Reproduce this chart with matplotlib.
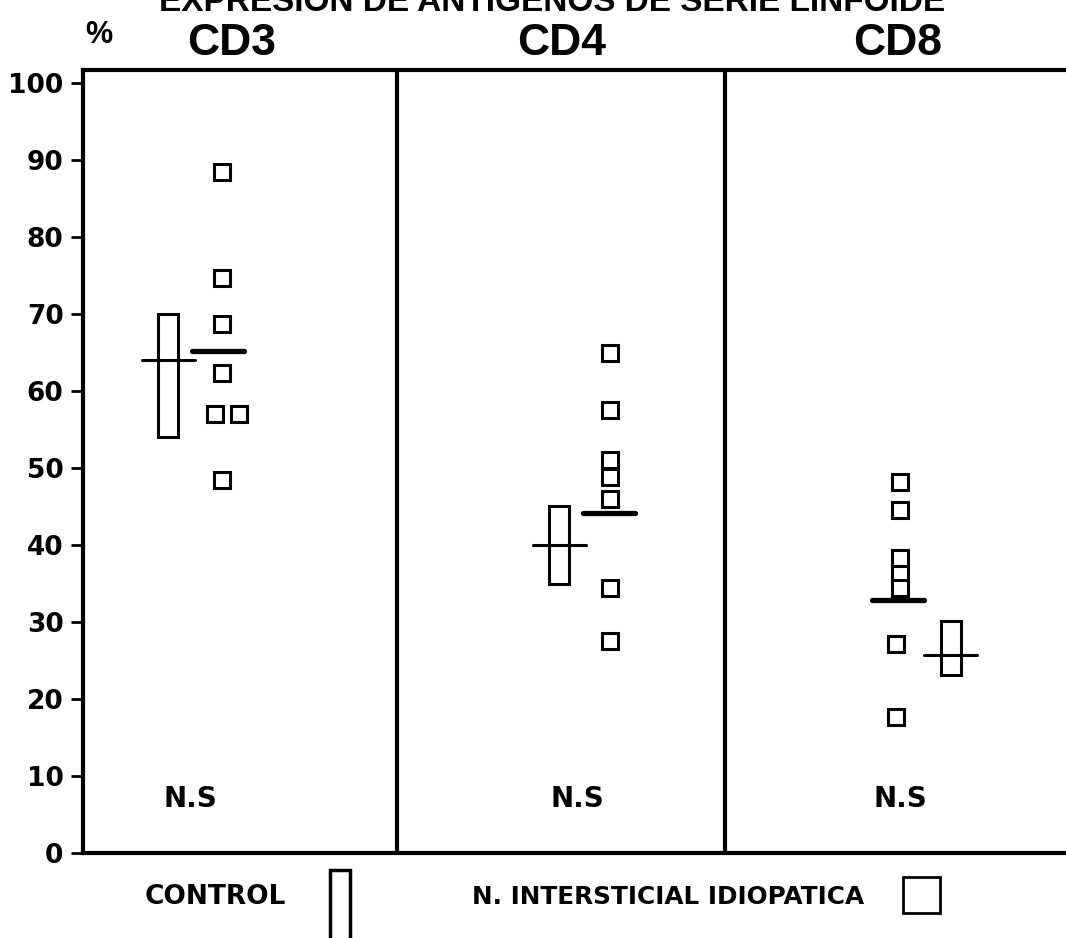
import matplotlib
matplotlib.use("Agg")
import matplotlib.pyplot as plt
from matplotlib.patches import Rectangle

# Data (% of cells)
panels = ["CD3", "CD4", "CD8"]
cd3_patients = [88.5, 74.7, 68.7, 62.3, 57.0, 57.0, 48.5]
cd4_patients = [64.9, 57.5, 51.1, 48.8, 46.0, 34.4, 27.5]
cd8_patients = [48.2, 44.6, 38.3, 36.2, 34.4, 27.1, 17.6]
patient_means = [65.2, 44.2, 32.9]
control_low = [54.0, 35.0, 23.1]
control_high = [70.0, 45.1, 30.1]
control_means = [64.0, 40.0, 25.7]
significance = ["N.S", "N.S", "N.S"]
yticks = list(range(0, 101, 10))

# Layout (x in units of 100 px from the left spine)
dividers = [3.14, 6.42]
control_x = [0.85, 4.765, 8.675]
patient_x = [1.39, 5.27, 8.17]
patient_jitter = [
    [0, 0, 0, 0, -0.07, 0.17, 0],
    [0, 0, 0, 0, 0, 0, 0],
    [0, 0, 0, 0, 0, -0.04, -0.04],
]
patient_mean_x = [1.345, 5.26, 8.15]
label_x = [1.49, 4.79, 8.15]
ns_x = [1.07, 4.94, 8.17]

NARROW = ["Liberation Sans", "DejaVu Sans"]
HEAVY = ["DejaVu Sans"]
YTOP = 101.7

fig = plt.figure(figsize=(10.66, 9.38), dpi=100)
ax = fig.add_axes([83 / 1066, (938 - 853) / 938, 1 - 83 / 1066, (853 - 70) / 938])
ax.set_xlim(0, 9.83)
ax.set_ylim(0, YTOP)

for sp in ["left", "bottom", "top"]:
    ax.spines[sp].set_linewidth(3)
ax.spines["right"].set_visible(False)
ax.set_xticks([])
ax.set_yticks(yticks)
ax.tick_params(axis="y", direction="out", length=9, width=2, pad=5)
for lab in ax.get_yticklabels():
    lab.set_fontsize(19)
    lab.set_fontweight("bold")
    lab.set_family(HEAVY)

for d in dividers:
    ax.axvline(d, color="black", linewidth=3)

all_patients = [cd3_patients, cd4_patients, cd8_patients]
for i in range(3):
    # control: range box with mean bar
    ax.bar(control_x[i], control_high[i] - control_low[i], bottom=control_low[i],
           width=0.2, fill=False, edgecolor="black", linewidth=2.2)
    ax.plot([control_x[i] - 0.265, control_x[i] + 0.265], [control_means[i]] * 2,
            color="black", linewidth=2.2, solid_capstyle="round")
    # patients: individual squares and mean bar
    xs = [patient_x[i] + j for j in patient_jitter[i]]
    ax.plot(xs, all_patients[i], linestyle="none", marker="s", markersize=12,
            markerfacecolor="white", markeredgecolor="black", markeredgewidth=2.2)
    ax.plot([patient_mean_x[i] - 0.26, patient_mean_x[i] + 0.26], [patient_means[i]] * 2,
            color="black", linewidth=3.8, solid_capstyle="round")
    ax.text(ns_x[i], 7.0, significance[i], ha="center", va="center",
            fontsize=20, fontweight="bold", family=HEAVY)
    ax.text(label_x[i], YTOP + 1.95, panels[i], ha="center", va="baseline",
            fontsize=32, fontweight="bold", family=NARROW, clip_on=False)

ax.text(0.16, YTOP + 3.5, "%", ha="center", va="baseline", fontsize=22,
        fontweight="bold", family=NARROW, clip_on=False)

fig.text(552 / 1066, 1 - 11 / 938, "EXPRESION DE ANTIGENOS DE SERIE LINFOIDE",
         ha="center", va="baseline", fontsize=24, fontweight="bold", family=NARROW)

# legend below the plot
fig.text(145 / 1066, 1 - 897 / 938, "CONTROL", ha="left", va="center",
         fontsize=19, fontweight="bold", family=HEAVY)
fig.patches.append(Rectangle((330 / 1066, 1 - 940 / 938), 20 / 1066, 70 / 938,
                             transform=fig.transFigure, fill=False,
                             edgecolor="black", linewidth=2.5))
fig.text(472 / 1066, 1 - 897 / 938, "N. INTERSTICIAL IDIOPATICA", ha="left",
         va="center", fontsize=17.8, fontweight="bold", family=HEAVY)
fig.patches.append(Rectangle((903 / 1066, 1 - 913 / 938), 37 / 1066, 36 / 938,
                             transform=fig.transFigure, fill=False,
                             edgecolor="black", linewidth=2))

fig.savefig("out.png", dpi=100, facecolor="white")
